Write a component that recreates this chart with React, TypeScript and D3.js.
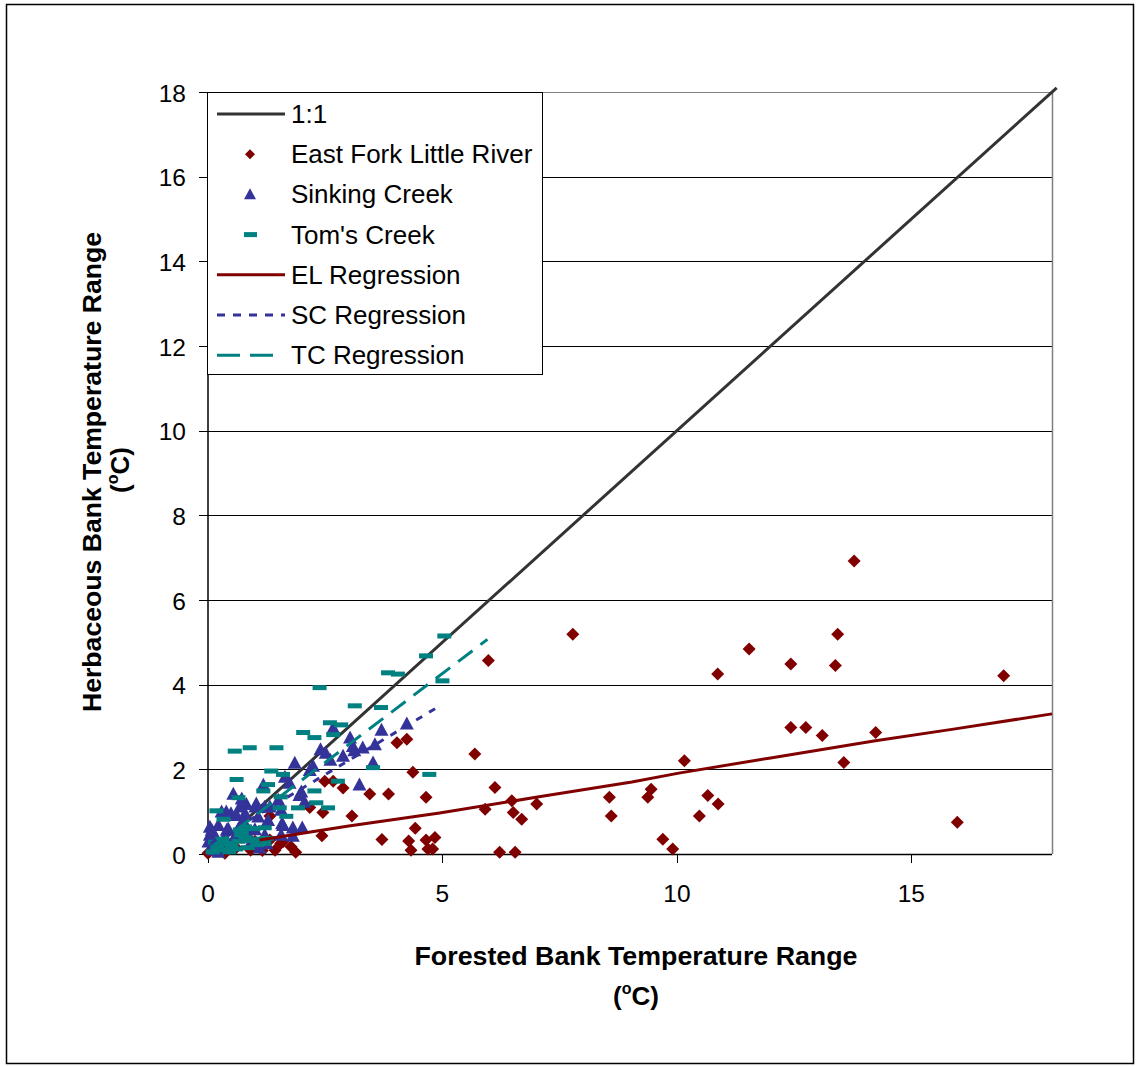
import React from "react";
import * as d3 from "d3";

// ---------- data ----------
const xTicks = [0, 5, 10, 15];
const yTicks = [0, 2, 4, 6, 8, 10, 12, 14, 16, 18];

const oneToOneLine: [number, number][] = [[0, 0], [18.1, 18.1]];

const eastForkPoints: [number, number][] = [
  [13.78, 6.92], [13.43, 5.19], [11.54, 4.84], [12.43, 4.49], [13.38, 4.45], [10.87, 4.25], [16.97, 4.21],
  [12.43, 2.99], [12.75, 2.99], [13.1, 2.8], [14.24, 2.87], [10.16, 2.2], [13.56, 2.16], [10.66, 1.38],
  [10.88, 1.18], [10.48, 0.9], [15.98, 0.75],
  [7.78, 5.19], [5.98, 4.57], [5.69, 2.36], [6.12, 1.57], [6.48, 1.26], [5.91, 1.06], [6.51, 0.98],
  [6.69, 0.82], [7.01, 1.18], [8.56, 1.34], [8.6, 0.9], [9.45, 1.53], [9.38, 1.34], [9.7, 0.35],
  [9.91, 0.12], [6.22, 0.04], [6.55, 0.04],
  [4.03, 2.63], [4.24, 2.71], [4.37, 1.93], [2.49, 1.72], [2.67, 1.72], [2.88, 1.56], [3.45, 1.42],
  [3.85, 1.42], [4.65, 1.34], [3.07, 0.9], [2.45, 0.98], [2.17, 1.1], [1.32, 0.9], [4.42, 0.61],
  [2.43, 0.43], [3.71, 0.34], [4.28, 0.31], [4.65, 0.33], [4.84, 0.39], [4.33, 0.09], [4.69, 0.12],
  [4.79, 0.12], [1.77, 0.17], [1.87, 0.04], [1.55, 0.25], [0.91, 0.09], [1.16, 0.08], [1.32, 0.33],
  [1.6, 0.29], [1.43, 0.09], [0.36, 0.09], [0.36, 0.02], [0.0, 0.02], [0.6, 0.15], [1.0, 0.3],
];

const sinkingPoints: [number, number][] = [
  [4.24, 3.08], [3.7, 2.93], [2.67, 2.98], [3.03, 2.75], [3.56, 2.59], [3.3, 2.51], [3.09, 2.55],
  [3.12, 2.45], [2.88, 2.32], [2.4, 2.47], [2.51, 2.39], [2.61, 2.22], [1.85, 2.15], [2.24, 2.08],
  [2.17, 1.98], [3.52, 2.16], [1.64, 1.82], [1.74, 1.68], [3.23, 1.64], [1.99, 1.47], [1.95, 1.39],
  [1.18, 1.63], [0.54, 1.42], [0.68, 1.12], [0.82, 1.18], [1.01, 1.12], [1.32, 1.12], [1.5, 1.28],
  [2.06, 1.23], [0.29, 1.0], [0.49, 0.96], [1.56, 1.04], [1.58, 0.72], [1.81, 0.62], [2.01, 0.62],
  [0.04, 0.64], [1.0, 0.58], [0.75, 0.8], [0.4, 0.57], [1.56, 0.45], [1.81, 0.43], [1.25, 0.25],
  [0.72, 1.31], [1.03, 1.19], [1.21, 1.11], [0.39, 1.0], [0.61, 0.92], [0.79, 0.96], [1.07, 0.88],
  [1.28, 0.8], [1.6, 0.68], [0.22, 0.68], [0.08, 0.57], [0.43, 0.6], [0.65, 0.6], [0.04, 0.45],
  [0.18, 0.37], [0.36, 0.41], [0.57, 0.41], [0.86, 0.45], [1.21, 0.45], [0.01, 0.29], [0.08, 0.17],
  [0.22, 0.05], [0.12, 0.1], [0.5, 0.2], [0.9, 0.25], [1.1, 0.15],
];

const tomsPoints: [number, number][] = [
  [5.04, 5.15], [4.65, 4.68], [3.84, 4.28], [4.05, 4.25], [5.0, 4.09], [2.38, 3.93], [3.13, 3.5],
  [3.69, 3.46], [2.6, 3.1], [2.84, 3.05], [2.03, 2.87], [2.27, 2.75], [2.67, 2.82], [0.57, 2.43],
  [0.89, 2.51], [1.46, 2.51], [1.35, 1.96], [1.6, 1.88], [3.52, 2.04], [4.72, 1.88], [0.61, 1.76],
  [2.77, 1.72], [1.28, 1.64], [1.18, 1.49], [2.27, 1.49], [0.65, 1.33], [2.31, 1.21], [2.56, 1.09],
  [1.92, 1.09], [1.53, 1.09], [1.67, 0.89], [0.18, 1.02], [0.33, 0.82], [1.21, 0.62], [0.68, 0.57],
  [1.55, 1.35], [0.79, 0.64], [0.97, 0.6], [0.72, 0.5],
  [0.2, 0.15], [0.4, 0.25], [0.65, 0.3], [0.9, 0.32], [1.1, 0.35], [1.25, 0.37], [0.1, 0.05],
  [0.35, 0.1], [0.6, 0.12], [0.85, 0.15], [1.05, 0.22], [0.7, 0.45], [0.3, 0.35], [0.5, 0.2],
  [0.15, 0.28], [1.2, 0.25], [0.8, 0.38], [0.45, 0.05],
];

const elRegression: [number, number][] = [
  [1.1, 0.33], [3, 0.66], [4.94, 0.97], [7.06, 1.35], [9.04, 1.7], [10.04, 1.91], [12, 2.27],
  [14.2, 2.67], [15.9, 2.95], [18, 3.31],
];
const scRegression: [number, number][] = [[0.05, 0.25], [4.9, 3.47]];
const tcRegression: [number, number][] = [[0.1, 0.15], [5.96, 5.07]];

const legendLabels = [
  "1:1",
  "East Fork Little River",
  "Sinking Creek",
  "Tom's Creek",
  "EL Regression",
  "SC Regression",
  "TC Regression",
];

// ---------- styles ----------
const RED = "#800000";
const BLUE = "#333399";
const TEAL = "#008080";
const DARK = "#333333";
const FONT = "'Liberation Sans', Arial, sans-serif";

const diamondPath = (r: number) => `M0,${-r}L${r},0L0,${r}L${-r},0Z`;
const trianglePath = (w: number, h: number) => `M0,${-h * 0.55}L${w / 2},${h * 0.45}L${-w / 2},${h * 0.45}Z`;

export default function App() {
  const left = 208, right = 1052, top = 92, bottom = 854;
  const x = d3.scaleLinear().domain([0, 18]).range([left, right]);
  const y = d3.scaleLinear().domain([0, 18]).range([bottom, top]);
  const line = d3.line<[number, number]>().x((d) => x(d[0])).y((d) => y(d[1]));

  const legX = 207, legY = 92, legW = 335, legH = 282;
  const rowY = (i: number) => 114 + i * 40.2;

  return (
    <svg
      width={1138}
      height={1066}
      style={{ position: "absolute", left: 0, top: 0, background: "#fff" }}
      fontFamily={FONT}
    >
      <rect x={0} y={0} width={1138} height={1066} fill="#fff" />
      <rect x={6.5} y={4.5} width={1127} height={1059} fill="none" stroke="#000" strokeWidth={1.5} />

      {/* gridlines */}
      {yTicks.filter((t) => t > 0).map((t) => (
        <line key={"g" + t} x1={left} x2={right} y1={Math.round(y(t)) + 0.5} y2={Math.round(y(t)) + 0.5}
          stroke={t === 18 ? "#808080" : "#000"} strokeWidth={1} />
      ))}
      {/* plot border right */}
      <line x1={right + 0.5} x2={right + 0.5} y1={top} y2={bottom} stroke="#808080" strokeWidth={1.5} />

      {/* axes */}
      <line x1={left} x2={left} y1={top} y2={bottom + 1} stroke="#000" strokeWidth={1.5} />
      <line x1={left} x2={right} y1={bottom + 0.5} y2={bottom + 0.5} stroke="#000" strokeWidth={1.5} />
      {yTicks.map((t) => (
        <g key={"yt" + t}>
          <line x1={left - 9} x2={left} y1={Math.round(y(t)) + 0.5} y2={Math.round(y(t)) + 0.5} stroke="#000" strokeWidth={1} />
          <text x={186} y={y(t) + 9.5} textAnchor="end" fontSize={24.5} fill="#000">{t}</text>
        </g>
      ))}
      {xTicks.map((t) => (
        <g key={"xt" + t}>
          <line x1={Math.round(x(t)) + 0.5} x2={Math.round(x(t)) + 0.5} y1={bottom} y2={bottom + 9} stroke="#000" strokeWidth={1} />
          <text x={x(t)} y={902} textAnchor="middle" fontSize={24.5} fill="#000">{t}</text>
        </g>
      ))}

      {/* 1:1 line */}
      <path d={line(oneToOneLine) || ""} fill="none" stroke={DARK} strokeWidth={3} />

      {/* scatter */}
      {eastForkPoints.map((p, i) => (
        <path key={"e" + i} d={diamondPath(6.5)} transform={`translate(${x(p[0])},${y(p[1])})`} fill={RED} />
      ))}
      {sinkingPoints.map((p, i) => (
        <path key={"s" + i} d={trianglePath(14, 13)} transform={`translate(${x(p[0])},${y(p[1])})`} fill={BLUE} />
      ))}
      {tomsPoints.map((p, i) => (
        <rect key={"t" + i} x={x(p[0]) - 7} y={y(p[1]) - 2.5} width={14} height={5} fill={TEAL} />
      ))}

      {/* regressions */}
      <path d={line(elRegression) || ""} fill="none" stroke={RED} strokeWidth={3} />
      <path d={line(scRegression) || ""} fill="none" stroke={BLUE} strokeWidth={3} strokeDasharray="7,8" />
      <path d={line(tcRegression) || ""} fill="none" stroke={TEAL} strokeWidth={3} strokeDasharray="18,10" />

      {/* legend */}
      <rect x={legX + 0.5} y={legY + 0.5} width={legW} height={legH} fill="#fff" stroke="#000" strokeWidth={1} />
      {legendLabels.map((lab, i) => {
        const cy = rowY(i);
        let sample: React.ReactNode = null;
        if (i === 0) sample = <line x1={217} x2={285} y1={cy} y2={cy} stroke={DARK} strokeWidth={3} />;
        if (i === 1) sample = <path d={diamondPath(5)} transform={`translate(250,${cy})`} fill={RED} />;
        if (i === 2) sample = <path d={trianglePath(12, 11)} transform={`translate(250,${cy})`} fill={BLUE} />;
        if (i === 3) sample = <rect x={244} y={cy - 2.5} width={13} height={5} fill={TEAL} />;
        if (i === 4) sample = <line x1={217} x2={285} y1={cy} y2={cy} stroke={RED} strokeWidth={3} />;
        if (i === 5) sample = <line x1={217} x2={285} y1={cy} y2={cy} stroke={BLUE} strokeWidth={3} strokeDasharray="8,8" />;
        if (i === 6) sample = <line x1={217} x2={280} y1={cy} y2={cy} stroke={TEAL} strokeWidth={3} strokeDasharray="23,10" />;
        return (
          <g key={"l" + i}>
            {sample}
            <text x={291} y={cy + 9} fontSize={26} fill="#000">{lab}</text>
          </g>
        );
      })}

      {/* axis titles */}
      <text x={636} y={965} textAnchor="middle" fontSize={26} fontWeight="bold" fill="#000"
        textLength={443} lengthAdjust="spacingAndGlyphs">Forested Bank Temperature Range</text>
      <text x={636} y={1005} textAnchor="middle" fontSize={26} fontWeight="bold" fill="#000">
        (<tspan fontSize={16} dy={-11}>o</tspan><tspan dy={11}>C)</tspan>
      </text>

      <g transform="translate(101,472) rotate(-90)">
        <text x={0} y={0} textAnchor="middle" fontSize={26} fontWeight="bold" fill="#000"
          textLength={480} lengthAdjust="spacingAndGlyphs">Herbaceous Bank Temperature Range</text>
      </g>
      <g transform="translate(129,470) rotate(-90)">
        <text x={0} y={0} textAnchor="middle" fontSize={26} fontWeight="bold" fill="#000">
          (<tspan fontSize={16} dy={-11}>o</tspan><tspan dy={11}>C)</tspan>
        </text>
      </g>
    </svg>
  );
}
